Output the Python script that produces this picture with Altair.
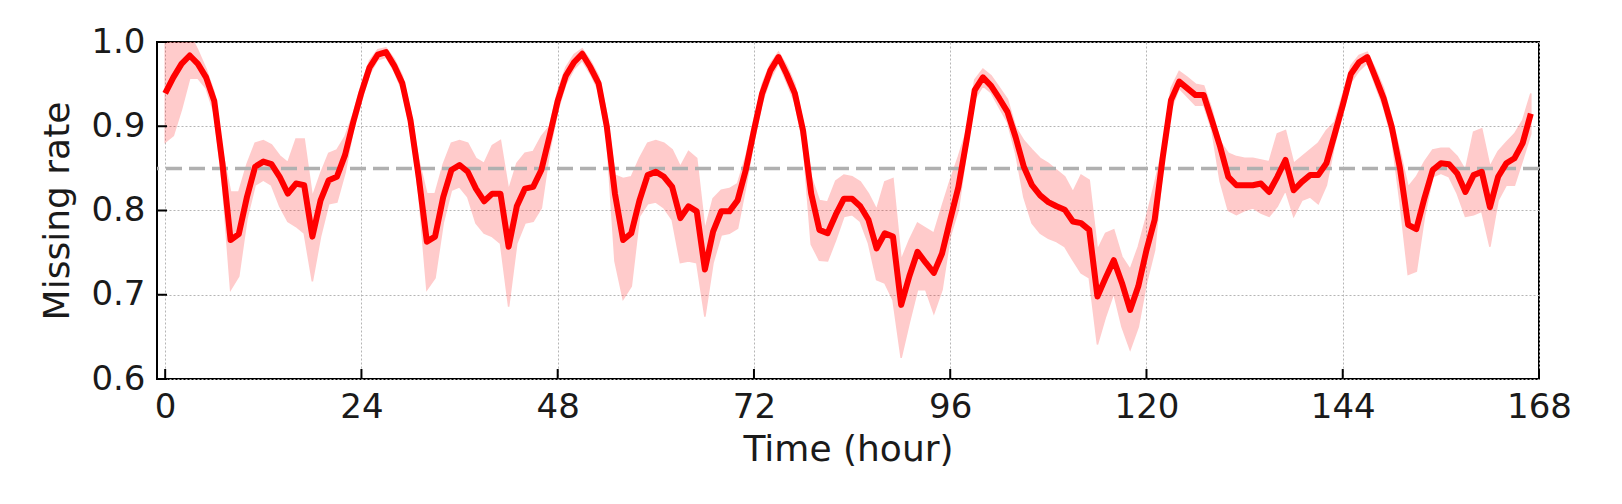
import altair as alt
import pandas as pd

hours = list(range(168))

mean_rate = [
    0.939, 0.958, 0.974, 0.984, 0.974, 0.958, 0.930, 0.856, 0.765, 0.772,
    0.816, 0.852, 0.858, 0.855, 0.840, 0.820, 0.832, 0.830, 0.769, 0.812,
    0.836, 0.840, 0.866, 0.905, 0.940, 0.970, 0.985, 0.988, 0.972, 0.951,
    0.907, 0.840, 0.763, 0.769, 0.816, 0.848, 0.854, 0.846, 0.826, 0.811,
    0.820, 0.820, 0.757, 0.805, 0.826, 0.828, 0.848, 0.888, 0.930, 0.960,
    0.976, 0.986, 0.970, 0.951, 0.900, 0.820, 0.765, 0.773, 0.812, 0.842,
    0.846, 0.840, 0.828, 0.791, 0.805, 0.799, 0.730, 0.775, 0.799, 0.799,
    0.812, 0.848, 0.895, 0.939, 0.966, 0.982, 0.962, 0.939, 0.895, 0.820,
    0.777, 0.773, 0.795, 0.814, 0.814, 0.805, 0.789, 0.755, 0.773, 0.769,
    0.688, 0.722, 0.751, 0.738, 0.726, 0.749, 0.789, 0.828, 0.883, 0.943,
    0.958, 0.948, 0.933, 0.917, 0.887, 0.852, 0.830, 0.818, 0.810, 0.805,
    0.801, 0.787, 0.785, 0.777, 0.698, 0.720, 0.741, 0.714, 0.682, 0.710,
    0.753, 0.789, 0.864, 0.931, 0.953, 0.945, 0.937, 0.937, 0.907, 0.876,
    0.840, 0.830, 0.830, 0.830, 0.832, 0.822, 0.840, 0.860, 0.824, 0.834,
    0.842, 0.842, 0.856, 0.890, 0.925, 0.962, 0.976, 0.982, 0.958, 0.933,
    0.899, 0.850, 0.783, 0.778, 0.815, 0.848, 0.856, 0.855, 0.844, 0.822,
    0.842, 0.846, 0.804, 0.840, 0.856, 0.862, 0.880, 0.915,
]

upper_rate = [
    1.020, 1.020, 1.020, 1.010, 0.990, 0.968, 0.940, 0.870, 0.822, 0.822,
    0.855, 0.880, 0.883, 0.878, 0.865, 0.857, 0.885, 0.885, 0.816, 0.844,
    0.868, 0.872, 0.888, 0.915, 0.950, 0.978, 0.991, 0.993, 0.980, 0.960,
    0.918, 0.860, 0.820, 0.820, 0.855, 0.880, 0.883, 0.880, 0.862, 0.856,
    0.877, 0.883, 0.824, 0.856, 0.868, 0.870, 0.888, 0.900, 0.942, 0.970,
    0.985, 0.992, 0.978, 0.960, 0.915, 0.842, 0.838, 0.840, 0.862, 0.880,
    0.883, 0.880, 0.872, 0.852, 0.870, 0.862, 0.777, 0.814, 0.824, 0.826,
    0.832, 0.864, 0.908, 0.950, 0.974, 0.988, 0.972, 0.950, 0.905, 0.840,
    0.812, 0.810, 0.835, 0.842, 0.840, 0.834, 0.820, 0.801, 0.834, 0.838,
    0.741, 0.765, 0.785, 0.779, 0.773, 0.805, 0.836, 0.864, 0.895, 0.955,
    0.968, 0.960, 0.946, 0.932, 0.899, 0.883, 0.872, 0.862, 0.856, 0.848,
    0.840, 0.822, 0.842, 0.836, 0.753, 0.773, 0.777, 0.745, 0.730, 0.757,
    0.793, 0.832, 0.875, 0.945, 0.965, 0.958, 0.950, 0.948, 0.920, 0.882,
    0.868, 0.864, 0.862, 0.862, 0.860, 0.858, 0.891, 0.895, 0.856, 0.864,
    0.872, 0.880, 0.895, 0.905, 0.938, 0.972, 0.984, 0.988, 0.968, 0.945,
    0.910, 0.870, 0.828, 0.840, 0.858, 0.872, 0.874, 0.874, 0.864, 0.848,
    0.893, 0.897, 0.852, 0.870, 0.881, 0.891, 0.907, 0.939,
]

lower_rate = [
    0.881, 0.889, 0.920, 0.957, 0.957, 0.945, 0.915, 0.830, 0.706, 0.722,
    0.790, 0.830, 0.836, 0.830, 0.805, 0.787, 0.781, 0.773, 0.716, 0.769,
    0.808, 0.810, 0.845, 0.895, 0.930, 0.962, 0.979, 0.982, 0.965, 0.942,
    0.895, 0.820, 0.706, 0.720, 0.785, 0.824, 0.828, 0.816, 0.785, 0.773,
    0.769, 0.761, 0.686, 0.761, 0.785, 0.787, 0.803, 0.870, 0.918, 0.950,
    0.968, 0.978, 0.962, 0.942, 0.885, 0.740, 0.695, 0.710, 0.793, 0.808,
    0.810, 0.803, 0.789, 0.738, 0.740, 0.738, 0.674, 0.738, 0.771, 0.773,
    0.779, 0.828, 0.882, 0.928, 0.956, 0.975, 0.952, 0.928, 0.880, 0.760,
    0.741, 0.740, 0.765, 0.793, 0.795, 0.787, 0.761, 0.718, 0.714, 0.694,
    0.625, 0.667, 0.706, 0.706, 0.678, 0.706, 0.769, 0.801, 0.870, 0.932,
    0.948, 0.940, 0.922, 0.905, 0.868, 0.816, 0.785, 0.773, 0.767, 0.763,
    0.757, 0.741, 0.726, 0.720, 0.641, 0.674, 0.702, 0.662, 0.635, 0.662,
    0.714, 0.753, 0.850, 0.920, 0.945, 0.935, 0.925, 0.925, 0.895, 0.835,
    0.800, 0.795, 0.800, 0.803, 0.797, 0.793, 0.805, 0.824, 0.793, 0.812,
    0.816, 0.808, 0.830, 0.878, 0.915, 0.952, 0.966, 0.975, 0.948, 0.922,
    0.885, 0.810, 0.724, 0.728, 0.793, 0.840, 0.844, 0.840, 0.820, 0.793,
    0.795, 0.799, 0.757, 0.812, 0.830, 0.830, 0.860, 0.891,
]

x_ticks = [0, 24, 48, 72, 96, 120, 144, 168]
y_ticks = [0.6, 0.7, 0.8, 0.9, 1.0]
threshold = [0.85]

W, H = 1382, 337
FONT = "DejaVu Sans"

df = pd.DataFrame({"hour": hours, "mean": mean_rate,
                   "lower": lower_rate, "upper": upper_rate})
xt = pd.DataFrame({"hour": x_ticks})
yt = pd.DataFrame({"rate": y_ticks})
th = pd.DataFrame({"rate": threshold})

xscale = alt.Scale(domain=[-1, 168], nice=False, zero=False)
yscale = alt.Scale(domain=[0.6, 1.0], nice=False, zero=False)

xaxis = alt.Axis(values=x_ticks, title="Time (hour)", format="d",
                 grid=True, gridColor="#b5b5b5", gridDash=[2, 2], gridWidth=1,
                 ticks=False, domain=False, labelFlush=False, labelOverlap=False,
                 labelPadding=11, labelFontSize=34, titleFontSize=36,
                 titlePadding=8, titleFontWeight="normal")
yaxis = alt.Axis(values=y_ticks, title="Missing rate", format=".1f",
                 grid=True, gridColor="#b5b5b5", gridDash=[2, 2], gridWidth=1,
                 ticks=False, domain=False, labelFlush=False, labelOverlap=False,
                 labelPadding=12, labelFontSize=34, titleFontSize=36,
                 titlePadding=14, titleFontWeight="normal")


def X(field):
    return alt.X(field, type="quantitative", scale=xscale, axis=xaxis)


def Y(field):
    return alt.Y(field, type="quantitative", scale=yscale, axis=yaxis)


band = alt.Chart(df).mark_area(
    color="red", opacity=0.2, stroke="red", strokeWidth=1.5, clip=True
).encode(x=X("hour"), y=Y("lower"), y2="upper")

thr = alt.Chart(th).mark_rule(
    color="#b0b0b0", strokeWidth=3.5, strokeDash=[16, 7]
).encode(y=Y("rate"))

line = alt.Chart(df).mark_line(
    color="#ff0000", strokeWidth=6, strokeJoin="round", clip=True
).encode(x=X("hour"), y=Y("mean"))

ytick_marks = alt.Chart(yt).mark_rule(color="black", strokeWidth=2).encode(
    y=Y("rate"), x=alt.value(0), x2=alt.value(10),
)
xtick_marks = alt.Chart(xt).mark_rule(color="black", strokeWidth=2).encode(
    x=X("hour"), y=alt.value(H), y2=alt.value(H - 10),
)

chart = alt.layer(band, thr, line, ytick_marks, xtick_marks).properties(
    width=W, height=H,
    autosize=alt.AutoSizeParams(type="none"),
    padding={"left": 149, "top": 34, "right": 60, "bottom": 100},
).configure_view(
    stroke="black", strokeWidth=2
).configure_axis(
    labelFont=FONT, titleFont=FONT, labelColor="#1a1a1a", titleColor="#1a1a1a"
)

chart.save("out.html", embed_options={"renderer": "svg", "actions": False})
